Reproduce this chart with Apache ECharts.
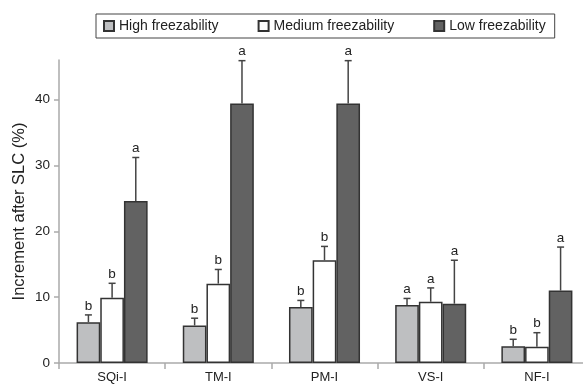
<!DOCTYPE html>
<html>
<head>
<meta charset="utf-8">
<script src="https://cdn.jsdelivr.net/npm/echarts@6/dist/echarts.min.js"></script>
<style>
html,body{margin:0;padding:0;background:#fff;}
#chart{width:583px;height:390px;}
</style>
</head>
<body>
<div id="chart"></div>
<script>
const categories = ['SQi-I', 'TM-I', 'PM-I', 'VS-I', 'NF-I'];
const seriesNames = ['High freezability', 'Medium freezability', 'Low freezability'];
const highVals = [6.2, 5.7, 8.5, 8.8, 2.55];
const medVals  = [9.9, 12.05, 15.6, 9.3, 2.45];
const lowVals  = [24.6, 39.4, 39.4, 9.0, 11.0];
const highErr  = [1.1, 1.1, 1.0, 1.0, 1.05];
const medErr   = [2.2, 2.15, 2.1, 2.1, 2.15];
const lowErr   = [6.6, 6.5, 6.5, 6.6, 6.6];
const highLetters = ['b', 'b', 'b', 'a', 'b'];
const medLetters  = ['b', 'b', 'b', 'a', 'b'];
const lowLetters  = ['a', 'a', 'a', 'a', 'a'];
const yTicks = [0, 10, 20, 30, 40];

const FONT = '"Liberation Sans", Arial, Helvetica, sans-serif';
const colors = ['#bebfc1', '#ffffff', '#626262'];
const BAR_FRAC = 0.223;

const groups = [
  {vals: highVals, err: highErr, letters: highLetters},
  {vals: medVals, err: medErr, letters: medLetters},
  {vals: lowVals, err: lowErr, letters: lowLetters}
];

const errData = [];
groups.forEach((g, k) => {
  categories.forEach((c, i) => {
    errData.push([i, g.vals[i], g.err[i], k, g.letters[i]]);
  });
});

function renderErr(params, api) {
  const ci = api.value(0), mean = api.value(1), sd = api.value(2), k = api.value(3);
  const letter = errData[params.dataIndex][4];
  const band = api.size([1, 0])[0];
  const bw = band * BAR_FRAC;
  const base = api.coord([ci, mean]);
  const x = base[0] + (k - 1) * bw;
  const top = api.coord([ci, mean + sd])[1];
  return {
    type: 'group',
    children: [
      {type: 'line', shape: {x1: x, y1: base[1], x2: x, y2: top}, style: {stroke: '#444', lineWidth: 1.5}},
      {type: 'line', shape: {x1: x - 3.5, y1: top, x2: x + 3.5, y2: top}, style: {stroke: '#444', lineWidth: 1.5}},
      {type: 'text', x: x, y: top - 9, style: {text: letter, fill: '#222', font: '13.5px ' + FONT, align: 'center', verticalAlign: 'middle'}}
    ]
  };
}

const chart = echarts.init(document.getElementById('chart'), null, {renderer: 'canvas'});
const barSeries = groups.map((g, k) => ({
  name: seriesNames[k],
  type: 'bar',
  data: g.vals,
  barWidth: (BAR_FRAC * 100) + '%',
  barGap: '0%',
  itemStyle: {color: colors[k], borderColor: '#333', borderWidth: 1.5},
  z: 2
}));

chart.setOption({
  animation: false,
  backgroundColor: '#fff',
  textStyle: {fontFamily: FONT},
  legend: {
    data: seriesNames,
    left: 96, top: 14,
    padding: [5, 9, 5, 7],
    itemGap: 39,
    itemWidth: 10, itemHeight: 10,
    borderColor: '#444', borderWidth: 1,
    icon: 'rect',
    textStyle: {fontSize: 14, color: '#222', fontFamily: FONT}
  },
  grid: {left: 59, top: 60, width: 531, height: 303, containLabel: false, outerBoundsMode: 'none'},
  xAxis: {
    type: 'category',
    data: categories,
    axisLine: {lineStyle: {color: '#aaa', width: 1.5}},
    axisTick: {show: true, length: 6, lineStyle: {color: '#aaa', width: 1.5}},
    axisLabel: {fontSize: 13, color: '#222', margin: 8, fontFamily: FONT}
  },
  yAxis: {
    type: 'value',
    min: 0, max: 46, interval: 10,
    name: 'Increment after SLC (%)',
    nameLocation: 'middle',
    nameRotate: 90,
    nameGap: 31,
    nameMoveOverlap: false,
    nameTextStyle: {fontSize: 16.5, color: '#222', fontFamily: FONT},
    axisLine: {show: true, lineStyle: {color: '#aaa', width: 1.5}},
    axisTick: {show: true, length: 5, lineStyle: {color: '#aaa', width: 1.5}, customValues: yTicks},
    axisLabel: {fontSize: 13.5, color: '#222', margin: 9, fontFamily: FONT, customValues: yTicks},
    splitLine: {show: false}
  },
  series: barSeries.concat([{
    type: 'custom',
    name: 'err',
    renderItem: renderErr,
    data: errData,
    encode: {x: 0, y: 1},
    z: 3,
    silent: true
  }])
});
</script>
</body>
</html>
